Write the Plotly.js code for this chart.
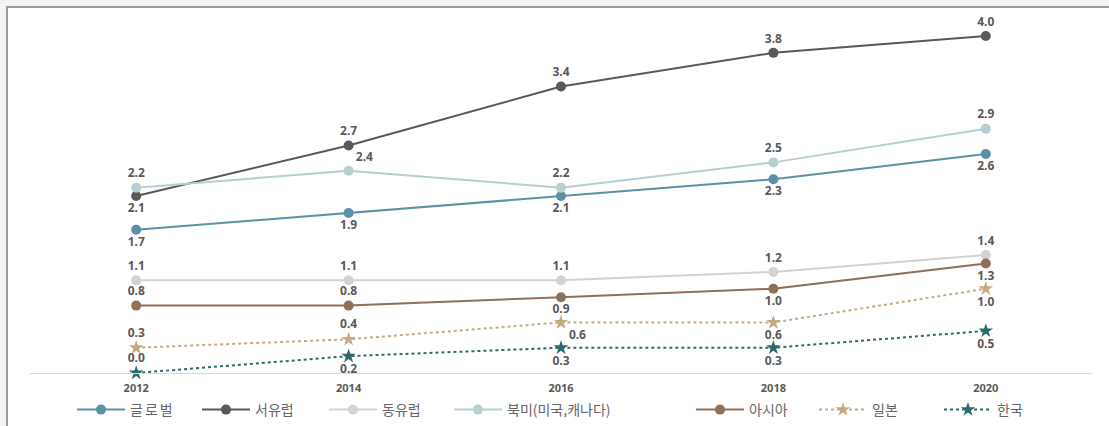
<!DOCTYPE html>
<html>
<head>
<meta charset="utf-8">
<script src="https://cdn.plot.ly/plotly-3.0.1.min.js"></script>
<style>
  html, body { margin:0; padding:0; background:#f4f5f5; width:1109px; height:426px; overflow:hidden; }
  #frame { position:absolute; left:6px; top:6px; width:1103px; height:420px; background:#ffffff;
           border-top:2px solid #9a9a9a; border-left:2px solid #9a9a9a; box-sizing:border-box; }
  #chart { position:absolute; left:0; top:0; width:1109px; height:426px; }
</style>
</head>
<body>
<div id="frame"></div>
<div id="chart"></div>
<script>
const years = ['2012', '2014', '2016', '2018', '2020'];
const seriesNames = ['글로벌', '서유럽', '동유럽', '북미(미국,캐나다)', '아시아', '일본', '한국'];
const global = [1.7, 1.9, 2.1, 2.3, 2.6];
const westEurope = [2.1, 2.7, 3.4, 3.8, 4.0];
const eastEurope = [1.1, 1.1, 1.1, 1.2, 1.4];
const northAmerica = [2.2, 2.4, 2.2, 2.5, 2.9];
const asia = [0.8, 0.8, 0.9, 1.0, 1.3];
const japan = [0.3, 0.4, 0.6, 0.6, 1.0];
const korea = [0.0, 0.2, 0.3, 0.3, 0.5];

const labelFont = {family: 'Noto Sans, DejaVu Sans, sans-serif', size: 12, color: '#595959', weight: 'bold'};
const legendIds = ['legend', 'legend2', 'legend3', 'legend4', 'legend5', 'legend6', 'legend7'];

function mk(i, vals, color, symbol, dash, positions, msize) {
  return {
    type: 'scatter', mode: 'lines+markers+text', name: seriesNames[i],
    legend: legendIds[i],
    x: years, y: vals,
    text: vals.map(v => v.toFixed(1)),
    textposition: positions,
    textfont: labelFont,
    line: {color: color, width: 2, dash: dash},
    marker: {color: color, symbol: symbol, size: msize},
    cliponaxis: false
  };
}

const traces = [
  mk(0, global, '#5a91a6', 'circle', 'solid', ['bottom center','bottom center','bottom center','bottom center','bottom center'], 10),
  mk(1, westEurope, '#595959', 'circle', 'solid', ['bottom center','top center','top center','top center','top center'], 10),
  mk(2, eastEurope, '#d2d2d2', 'circle', 'solid', ['top center','top center','top center','top center','top center'], 10),
  mk(3, northAmerica, '#b6cfd0', 'circle', 'solid', ['top center','top right','top center','top center','top center'], 10),
  mk(4, asia, '#8f6e5a', 'circle', 'solid', ['top center','top center','bottom center','bottom center','bottom center'], 10),
  mk(5, japan, '#c5ab83', 'star', 'dot', ['top center','top center','bottom right','bottom center','bottom center'], 11),
  mk(6, korea, '#2d6a6d', 'star', 'dot', ['top center','bottom center','bottom center','bottom center','bottom center'], 11)
];

// legend item left edges (page px) converted to container fractions
const legendLeftPx = [72, 197, 324, 449, 691, 814, 939];

const layout = {
  width: 1109, height: 426,
  margin: {l: 30, r: 17, t: 20, b: 53},
  paper_bgcolor: 'rgba(0,0,0,0)',
  plot_bgcolor: 'rgba(0,0,0,0)',
  showlegend: true,
  xaxis: {
    type: 'category', range: [-0.5, 4.5],
    showgrid: false, zeroline: false,
    showline: true, linecolor: '#d9d9d9', linewidth: 1,
    ticks: '', ticklabelstandoff: 5,
    tickfont: {family: 'Noto Sans, DejaVu Sans, sans-serif', size: 11, color: '#595959', weight: 'bold'},
    fixedrange: true
  },
  yaxis: {
    range: [0, 4.19], showgrid: false, zeroline: false, showline: false,
    showticklabels: false, ticks: '', fixedrange: true
  }
};

legendIds.forEach((id, i) => {
  layout[id] = {
    orientation: 'h', xref: 'container', yref: 'container',
    x: legendLeftPx[i] / 1109, xanchor: 'left',
    y: 1 - 410 / 426, yanchor: 'middle',
    bgcolor: 'rgba(0,0,0,0)',
    font: {family: 'Noto Sans CJK KR, Noto Sans, sans-serif', size: 14, color: '#666666'},
    itemwidth: 48
  };
});

Plotly.newPlot('chart', traces, layout, {displayModeBar: false, staticPlot: true}).then(() => {
  document.querySelectorAll('#chart .legendtext').forEach(t => { t.style.letterSpacing = '2px'; });
});
</script>
</body>
</html>
